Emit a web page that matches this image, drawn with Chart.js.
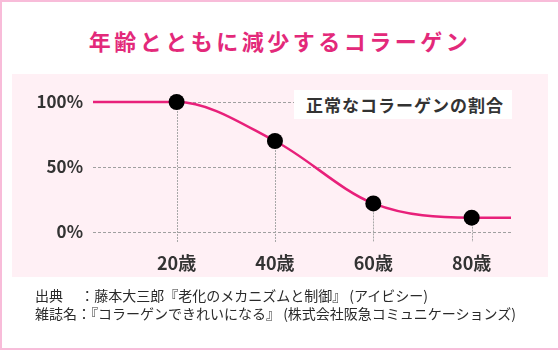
<!DOCTYPE html>
<html lang="ja">
<head>
<meta charset="utf-8">
<script src="https://cdn.jsdelivr.net/npm/chart.js@4/dist/chart.umd.min.js"></script>
<style>
    html, body { margin: 0; padding: 0; }
    body { position: relative; width: 560px; height: 350px; overflow: hidden; background: #fff;
        font-family: "Noto Sans CJK JP", "Noto Sans", sans-serif; color: #333; }
    .frame { position: absolute; left: 0; top: 0; width: 560px; height: 350px; box-sizing: border-box; border: 2px solid #f8bcd9; }
    .title { position: absolute; left: 0; top: 26px; width: 560px; text-align: center; font-size: 22px; font-weight: bold;
        line-height: 28px; letter-spacing: 3.5px; color: #e3297a; }
    .panel { position: absolute; left: 12px; top: 74px; width: 536px; height: 203px; background: #fff0f5; }
    #chart { position: absolute; left: 0; top: 0; }
    .legend { position: absolute; left: 294px; top: 90px; width: 206px; height: 29px; padding-left: 12px; background: #fff;
        font-size: 17px; font-weight: bold; line-height: 29px; letter-spacing: 1px; color: #333; }
    .source { position: absolute; left: 35px; top: 286px; font-size: 14px; line-height: 18px; color: #2a2a2a; }
</style>
</head>
<body>
<div class="frame"></div>
<div class="title">年齢とともに減少するコラーゲン</div>
<div class="panel"></div>
<canvas id="chart" width="560" height="350"></canvas>
<div class="legend">正常なコラーゲンの割合</div>
<div class="source">出典　 ：藤本大三郎『老化のメカニズムと制御』 (アイビシー)<br>雑誌名：『コラーゲンできれいになる』 (株式会社阪急コミュニケーションズ)</div>
<script>
    // ages (years) and ratio of normal collagen (%)
    var ages = [3, 20, 40, 60, 80, 88];
    var ratios = [100, 100, 70, 22, 11, 11];
    var markers = [0, 8, 8, 8, 8, 0];
    var ageTicks = [20, 40, 60, 80];
    var ratioTicks = [0, 50, 100];

    var dropLines = {
        id: 'dropLines',
        beforeDatasetsDraw: function(chart) {
            var ctx = chart.ctx;
            var bottom = chart.chartArea.bottom + 10;
            ctx.save();
            ctx.strokeStyle = '#a8a8a8';
            ctx.lineWidth = 1;
            ctx.setLineDash([2, 1]);
            chart.getDatasetMeta(0).data.forEach(function(pt, i) {
                if (!markers[i]) return;
                var x = Math.round(pt.x) + 0.5;
                ctx.beginPath();
                ctx.moveTo(x, pt.y);
                ctx.lineTo(x, bottom);
                ctx.stroke();
            });
            ctx.restore();
        }
    };

    new Chart(document.getElementById('chart'), {
        type: 'line',
        data: {
            datasets: [{
                label: '正常なコラーゲンの割合',
                data: ages.map(function(a, i) { return {x: a, y: ratios[i]}; }),
                borderColor: '#e8207a',
                borderWidth: 2.5,
                cubicInterpolationMode: 'monotone',
                pointRadius: markers,
                pointBackgroundColor: '#000',
                pointBorderWidth: 0,
                clip: false
            }]
        },
        options: {
            responsive: false,
            animation: false,
            devicePixelRatio: 1,
            layout: { padding: { left: 0, top: 102, right: 49, bottom: 0 } },
            plugins: { legend: { display: false }, tooltip: { enabled: false } },
            scales: {
                x: {
                    type: 'linear',
                    min: 3,
                    max: 88,
                    afterBuildTicks: function(s) { s.ticks = ageTicks.map(function(v) { return {value: v}; }); },
                    afterFit: function(s) { s.height = 118; },
                    grid: { display: false },
                    border: { display: false },
                    ticks: {
                        padding: 12,
                        color: '#333',
                        font: { family: '"Noto Sans CJK JP"', size: 18, weight: 'bold' },
                        callback: function(v) { return v + '歳'; }
                    }
                },
                y: {
                    min: 0,
                    max: 100,
                    afterBuildTicks: function(s) { s.ticks = ratioTicks.map(function(v) { return {value: v}; }); },
                    afterFit: function(s) { s.width = 93; },
                    grid: { color: '#a0a0a0', drawTicks: false },
                    border: { display: false, dash: [3, 2] },
                    ticks: {
                        padding: 10,
                        color: '#333',
                        font: { family: '"Noto Sans CJK JP"', size: 17, weight: 'bold' },
                        callback: function(v) { return v + '%'; }
                    }
                }
            }
        },
        plugins: [dropLines]
    });
</script>
</body>
</html>
